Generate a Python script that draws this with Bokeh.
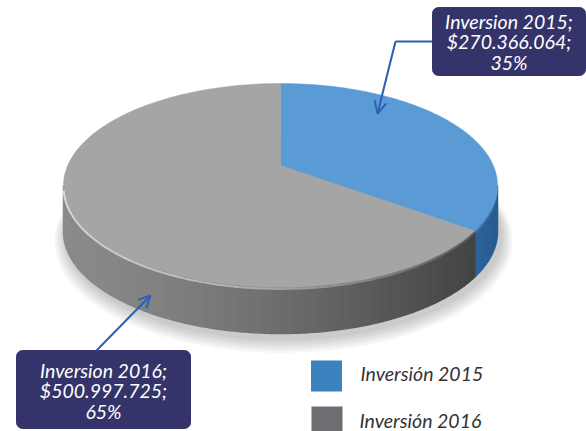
import numpy as np
from bokeh.plotting import figure
from bokeh.models import Range1d, Arrow, OpenHead
from bokeh.core.properties import value
from bokeh.embed import file_html
from bokeh.resources import INLINE

# ---------------- data ----------------
categories = ["Inversión 2015", "Inversión 2016"]
callout_names = ["Inversion 2015;", "Inversion 2016;"]
amounts = [270366064, 500997725]
amount_labels = ["$270.366.064;", "$500.997.725;"]
percent_labels = ["35%", "65%"]

# ---------------- style ----------------
top_colors = ["#5b9bd5", "#a5a5a5"]
side_base = [(84, 190, 298), (128, 128, 128)]
legend_colors = ["#3c82bf", "#6d6d72"]
box_color = "#34346a"
arrow_color = "#2f5fb3"
FONT = "Lato"

W, H = 586, 431
p = figure(width=W, height=H, x_range=Range1d(0, W), y_range=Range1d(H, 0),
           output_backend="svg", toolbar_location=None, min_border=0,
           x_axis_type=None, y_axis_type=None)
p.grid.visible = False
p.outline_line_color = None
p.background_fill_color = "white"

# pie geometry (screen pixels)
cx, cy, rx, ry = 280.0, 185.0, 217.0, 102.0
a = -0.196
c = np.sqrt(1 - a * a)
depth = 46.0


def proj(theta_deg):
    t = np.radians(theta_deg)
    u = np.cos(t)
    w = -np.sin(t)
    den = 1 + a * w
    X = c * u / den
    Y = (w + a) / den
    return cx + rx * X, cy + ry * Y


def disk_angle_from_screen(phi_deg):
    f = np.radians(phi_deg)
    X, Y = np.cos(f), np.sin(f)
    den = 1 - a * Y
    u = c * X / den
    w = (Y - a) / den
    return np.degrees(np.arctan2(-w, u))


fracs = np.array(amounts, dtype=float) / np.sum(amounts)
starts = 90 - 360 * np.concatenate([[0], np.cumsum(fracs)[:-1]])
ends = starts - 360 * fracs

# shadow
for k in range(6):
    p.ellipse(x=[283], y=[236 + k], width=[2 * (rx + 2 + 2 * k)], height=[2 * (ry + 2 + 1.5 * k)],
              fill_color="#000000", fill_alpha=0.035, line_color=None)

# side strips
bounds_phi = []
for th in list(starts):
    x0, y0 = proj(th)
    ph = np.degrees(np.arctan2((y0 - cy) / ry, (x0 - cx) / rx))
    if 0 < ph < 180:
        bounds_phi.append(ph)
breaks = sorted([0.0, 180.0] + bounds_phi)


def slice_of(theta):
    for i in range(len(fracs)):
        s, e = starts[i], ends[i]
        t = theta
        while t > s:
            t -= 360
        while t <= s - 360:
            t += 360
        if e <= t <= s:
            return i
    return len(fracs) - 1


sx, sy, scol = [], [], []
for b0, b1 in zip(breaks[:-1], breaks[1:]):
    n = max(2, int((b1 - b0) / 3))
    edges = np.linspace(b0, b1, n + 1)
    idx = slice_of(disk_angle_from_screen((b0 + b1) / 2))
    for e0, e1 in zip(edges[:-1], edges[1:]):
        ph = np.linspace(e0, e1, 5)
        xt = cx + rx * np.cos(np.radians(ph))
        yt = cy + ry * np.sin(np.radians(ph))
        X = np.cos(np.radians((e0 + e1) / 2))
        f = 1.08 - 0.6 * ((X + 1) / 2) ** 1.4
        r, g, bl = [int(min(255, v * f)) for v in side_base[idx]]
        sx.append(list(xt) + list(xt[::-1]))
        sy.append(list(yt) + list((yt + depth)[::-1]))
        scol.append("#%02x%02x%02x" % (r, g, bl))
p.patches(xs=sx, ys=sy, fill_color=scol, line_color=scol, line_width=1.5)

# top face slices
apex_x, apex_y = cx, cy + ry * a
txs, tys = [], []
for i in range(len(fracs)):
    th = np.linspace(starts[i], ends[i], 200)
    px, py = proj(th)
    txs.append([apex_x] + list(px))
    tys.append([apex_y] + list(py))
p.patches(xs=txs, ys=tys, fill_color=top_colors, line_color=top_colors, line_width=0.5)

# rim highlight
ph = np.linspace(2, 178, 90)
hx = cx + rx * np.cos(np.radians(ph))
hy = cy + ry * np.sin(np.radians(ph)) + 1.5
hxs = [[hx[i], hx[i + 1]] for i in range(len(ph) - 1)]
hys = [[hy[i], hy[i + 1]] for i in range(len(ph) - 1)]
halpha = [0.1 + 0.55 * (1 - np.cos(np.radians(ph[i]))) / 2 for i in range(len(ph) - 1)]
p.multi_line(xs=hxs, ys=hys, line_color="white", line_alpha=halpha, line_width=2)

# callouts
box_l = [432, 16]
box_r = [585, 190]
box_t = [7, 350]
box_b = [75, 428]
p.quad(left=box_l, right=box_r, top=box_t, bottom=box_b, fill_color=box_color,
       line_color=box_color, border_radius=6)
line_y = [[21, 41, 62], [370, 390, 411]]
for i in range(2):
    xc = (box_l[i] + box_r[i]) / 2
    p.text(x=[xc] * 3, y=line_y[i], text=[callout_names[i], amount_labels[i], percent_labels[i]],
           text_font=value(FONT), text_font_style="italic", text_font_size="19.5px",
           text_color="white", text_align="center", text_baseline="middle")

# leader lines
p.line(x=[432, 395], y=[41, 41], line_color=arrow_color, line_width=2)
p.add_layout(Arrow(end=OpenHead(size=12, line_color=arrow_color, line_width=2),
                   x_start=395, y_start=41, x_end=377, y_end=113,
                   line_color=arrow_color, line_width=2))
p.add_layout(Arrow(end=OpenHead(size=12, line_color=arrow_color, line_width=2),
                   x_start=96, y_start=350, x_end=150, y_end=295,
                   line_color=arrow_color, line_width=2))

# legend
leg_y = [375.5, 420]
p.rect(x=[326, 326.5], y=leg_y, width=31, height=[31, 28], fill_color=legend_colors, line_color=None)
p.text(x=[360, 359], y=[373, 420], text=categories, text_font=value(FONT), text_font_style="italic",
       text_font_size="19.5px", text_color="#333333", text_align="left", text_baseline="middle")

open("out.html", "w").write(file_html(p, INLINE))
